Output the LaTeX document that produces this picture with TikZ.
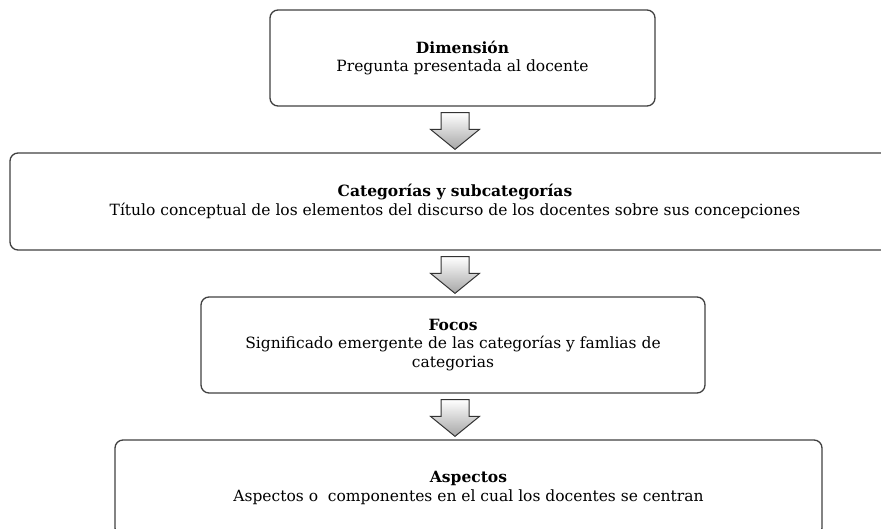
\documentclass[tikz,border=0pt]{standalone}
\usepackage{fontspec}
\setmainfont{DejaVu Serif}
\usetikzlibrary{calc}
\tikzset{
  caja/.style={draw=black!75, line width=1.3pt, rounded corners=8pt, align=center, inner sep=0pt, font=\fontsize{15.5}{18.5}\selectfont},
  flecha/.style={draw=black!80, line width=1pt, top color=white, bottom color=black!35}
}
\begin{document}
\begin{tikzpicture}[x=1pt,y=-1pt]
  \useasboundingbox (0,0) rectangle (881,528);
  \node[caja, minimum width=385pt, minimum height=96pt] (dim) at (462.5,58) {\textbf{Dimensión}\\Pregunta presentada al docente};
  \node[caja, minimum width=890pt, minimum height=97pt] (cat) at (455,201.5) {\textbf{Categorías y subcategorías}\\Título conceptual de los elementos del discurso de los docentes sobre sus concepciones};
  \node[caja, minimum width=504pt, minimum height=96pt] (foc) at (453,345) {\textbf{Focos}\\Significado emergente de las categorías y famlias de\\categorias};
  \node[caja, minimum width=707pt, minimum height=96pt] (asp) at (468.5,488) {\textbf{Aspectos}\\Aspectos o~ componentes en el cual los docentes se centran};
  \foreach \a/\b in {dim/cat,cat/foc,foc/asp}
    \path[flecha] let \p1=(\a.south), \p2=(\b.north) in
      ({441pt},{\y1-6pt}) -- ({469pt},{\y1-6pt}) -- ({469pt},{\y2+23pt}) -- ({479.5pt},{\y2+23pt})
      -- ({455pt},{\y2+3pt}) -- ({430.5pt},{\y2+23pt}) -- ({441pt},{\y2+23pt}) -- cycle;
\end{tikzpicture}
\end{document}
